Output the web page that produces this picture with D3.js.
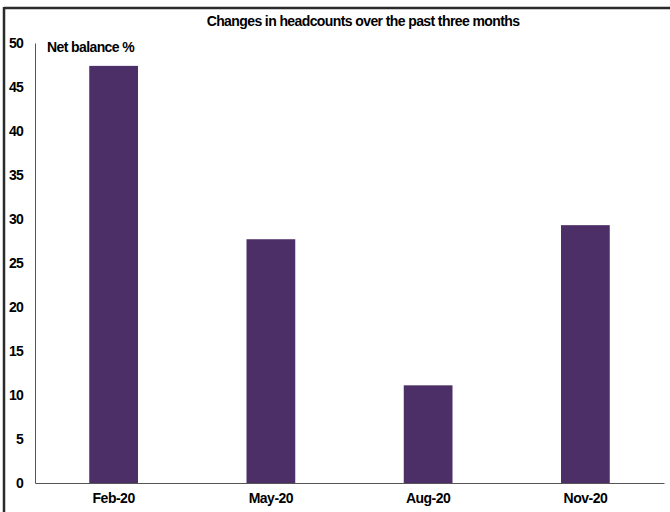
<!DOCTYPE html>
<html>
<head>
<meta charset="utf-8">
<script src="https://cdn.jsdelivr.net/npm/d3@7"></script>
<style>
  html, body { margin: 0; padding: 0; background: #fff; }
  svg { display: block; font-family: "Liberation Sans", Arial, sans-serif; }
</style>
</head>
<body>
<svg id="chart" width="670" height="512"></svg>
<script>
// Survey net balance of headcount changes, by quarter
const categories = ["Feb-20", "May-20", "Aug-20", "Nov-20"];
const netBalance = [47.4, 27.7, 11.1, 29.3];
const yTicks = [0, 5, 10, 15, 20, 25, 30, 35, 40, 45, 50];

const title = "Changes in headcounts over the past three months";
const unitLabel = "Net balance %";

const svg = d3.select("#chart");

const plot = { left: 35, right: 664, top: 43, bottom: 483 };
const fontSize = 14;
const tight = -0.6;

const x = d3.scaleBand()
  .domain(categories)
  .range([plot.left, plot.right])
  .paddingInner(0.69)
  .paddingOuter(0.345);

const y = d3.scaleLinear()
  .domain([0, 50])
  .range([plot.bottom, plot.top]);

// Outer frame: top and left edges only
svg.append("line")
  .attr("x1", 4).attr("x2", 670).attr("y1", 8).attr("y2", 8)
  .attr("stroke", "#2b2b2b").attr("stroke-width", 2.5);
svg.append("line")
  .attr("x1", 4).attr("x2", 4).attr("y1", 7).attr("y2", 512)
  .attr("stroke", "#2b2b2b").attr("stroke-width", 2.5);

// Title
svg.append("text")
  .attr("x", 363).attr("y", 26)
  .attr("text-anchor", "middle")
  .attr("font-size", fontSize).attr("font-weight", "bold")
  .attr("letter-spacing", tight)
  .attr("fill", "#000")
  .text(title);

// Bars
svg.append("g").selectAll("rect")
  .data(categories)
  .join("rect")
  .attr("x", d => x(d))
  .attr("width", x.bandwidth())
  .attr("y", (d, i) => y(netBalance[i]))
  .attr("height", (d, i) => y(0) - y(netBalance[i]))
  .attr("fill", "#4c2f66");

// Y axis
const yAxis = d3.axisLeft(y).tickValues(yTicks).tickSize(0).tickPadding(12);
const gy = svg.append("g")
  .attr("transform", `translate(${plot.left},0)`)
  .call(yAxis);
gy.select(".domain").attr("stroke", "#555").attr("stroke-width", 1);
gy.selectAll("text")
  .attr("font-size", fontSize).attr("font-weight", "bold")
  .attr("font-family", "Liberation Sans, Arial, sans-serif")
  .attr("letter-spacing", -0.8)
  .attr("fill", "#000");

// X axis
const xAxis = d3.axisBottom(x).tickSize(0).tickPadding(10);
const gx = svg.append("g")
  .attr("transform", `translate(0,${plot.bottom})`)
  .call(xAxis);
gx.select(".domain").attr("stroke", "#555").attr("stroke-width", 1);
gx.selectAll("text")
  .attr("font-size", fontSize).attr("font-weight", "bold")
  .attr("font-family", "Liberation Sans, Arial, sans-serif")
  .attr("letter-spacing", -0.5)
  .attr("fill", "#000");

// Unit label
svg.append("text")
  .attr("x", 47).attr("y", 52)
  .attr("font-size", fontSize).attr("font-weight", "bold")
  .attr("letter-spacing", tight)
  .attr("fill", "#000")
  .text(unitLabel);
</script>
</body>
</html>
